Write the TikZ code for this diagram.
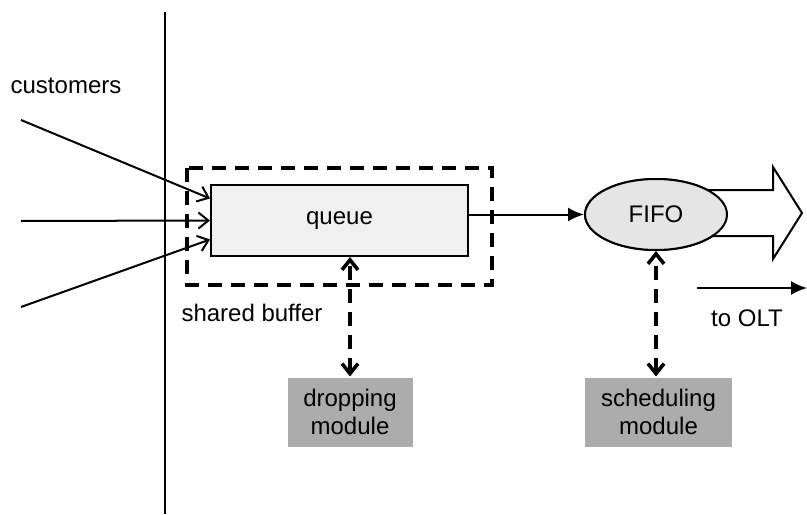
\documentclass[tikz,border=0pt]{standalone}
\usepackage{fontspec}
\setmainfont{Liberation Sans}
\usetikzlibrary{arrows.meta, positioning, shapes.geometric}

\begin{document}
\begin{tikzpicture}[x=0.5pt, y=-0.5pt, >={Straight Barb[length=5pt,width=8pt]}, line width=1pt, every node/.style={font=\fontsize{12}{14}\selectfont}]
% Define styles for boxes, ellipse, links and text
\tikzstyle{queuebox} = [draw, fill=gray!12, rectangle, minimum width=128.5pt, minimum height=35.5pt, inner sep=0pt]
\tikzstyle{fifo} = [draw, fill=gray!20, ellipse, minimum width=71pt, minimum height=35.5pt, inner sep=0pt]
\tikzstyle{module} = [fill=gray!65, rectangle, minimum height=34.5pt, align=center, inner sep=0pt]
\tikzstyle{dashedline} = [line width=1.8pt, dash pattern=on 7pt off 4.5pt]
\tikzstyle{label} = [inner sep=0pt]
\useasboundingbox (0,0) rectangle (807,514);

% Nodes placement
\node [queuebox] (queue) at (339.5,220.5) {queue};
\node [fifo] (fifo) at (656,214.5) {FIFO};
\node [module, minimum width=62.5pt] (dropping) at (350,412) {dropping\\module};
\node [module, minimum width=73.5pt] (scheduling) at (658.5,412) {scheduling\\module};
\node [label] (customers) at (66,86) {customers};
\node [label] (buffer) at (252,313) {shared buffer};
\node [label] (olt) at (747,318) {to OLT};
\coordinate (in1) at (21,120);
\coordinate (in2) at (21,221);
\coordinate (in3) at (21,307);
\coordinate (outstart) at (697,288);
\coordinate (outend) at (807,288);

% Separation line
\draw (165,12) -- (165,514);

% Shared buffer
\draw [dashedline] (187,168) rectangle (492,285);

% Output arrow, drawn before the ellipse
\draw [fill=white] (700,190) -- (773,190) -- (773,167) -- (802,213) -- (773,259) -- (773,236) -- (700,236) -- cycle;
\node [fifo] at (fifo) {FIFO};

% Draw edges
\draw [->] (in1) -- ([yshift=11pt]queue.west);
\draw [->] (in2) -- (queue.west);
\draw [->] (in3) -- ([yshift=-9.5pt]queue.west);
\draw [-{Latex[length=8pt,width=7pt]}] (queue.east |- fifo.west) -- (fifo.west);
\draw [-{Latex[length=8pt,width=7pt]}] (outstart) -- (outend);

% Control links
\draw [dashedline, <->, >={Straight Barb[length=5pt,width=8pt]}] (dropping.north) -- (queue.south -| dropping.north);
\draw [dashedline, <->, >={Straight Barb[length=5pt,width=8pt]}] (scheduling.north -| fifo.south) -- (fifo.south);
\end{tikzpicture}
\end{document}
